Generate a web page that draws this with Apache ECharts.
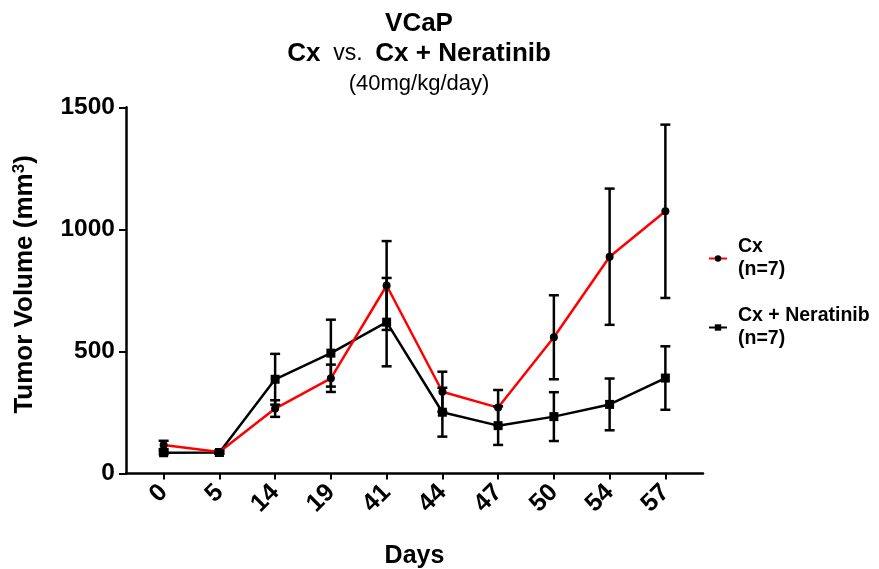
<!DOCTYPE html>
<html>
<head>
<meta charset="utf-8">
<script src="https://cdn.jsdelivr.net/npm/echarts@6/dist/echarts.min.js"></script>
<style>
html,body{margin:0;padding:0;background:#fff;}
#chart{width:879px;height:569px;}
</style>
</head>
<body>
<div id="chart"></div>
<script>
var days = ['0', '5', '14', '19', '41', '44', '47', '50', '54', '57'];
var cxMean = [117, 88, 266, 390, 770, 335, 270, 558, 888, 1074];
var cxErr = [17, 6, 34, 56, 182, 82, 72, 172, 279, 355];
var neraMean = [85, 86, 386, 493, 620, 251, 196, 233, 283, 391];
var neraErr = [6, 5, 104, 137, 181, 100, 79, 100, 106, 130];
var yTicks = [0, 500, 1000, 1500];

var FONT = '"Liberation Sans", Arial, Helvetica, sans-serif';
var idx = days.map(function (d, i) { return i; });

function pts(mean) { return mean.map(function (v, i) { return [i, v]; }); }
function errData(mean, err) { return mean.map(function (v, i) { return [i, v, err[i]]; }); }

function errRender(params, api) {
  var i = api.value(0), m = api.value(1), e = api.value(2);
  var top = api.coord([i, m + e]);
  var bot = api.coord([i, m - e]);
  var hw = 5;
  var st = { stroke: '#000', lineWidth: 2.5 };
  return {
    type: 'group',
    children: [
      { type: 'line', shape: { x1: top[0], y1: top[1], x2: bot[0], y2: bot[1] }, style: st },
      { type: 'line', shape: { x1: top[0] - hw, y1: top[1], x2: top[0] + hw, y2: top[1] }, style: st },
      { type: 'line', shape: { x1: bot[0] - hw, y1: bot[1], x2: bot[0] + hw, y2: bot[1] }, style: st }
    ]
  };
}

var chart = echarts.init(document.getElementById('chart'), null, { renderer: 'canvas' });
chart.setOption({
  animation: false,
  backgroundColor: '#fff',
  textStyle: { fontFamily: FONT },
  title: {
    left: 414,
    top: 4,
    textAlign: 'center',
    text: '{b|VCaP}\n{b|Cx}{n|  vs.  }{b|Cx + Neratinib}\n{s|(40mg/kg/day)}',
    textStyle: {
      fontFamily: FONT,
      lineHeight: 30,
      rich: {
        b: { fontFamily: FONT, fontSize: 26, fontWeight: 'bold', color: '#000', lineHeight: 30 },
        n: { fontFamily: FONT, fontSize: 23, fontWeight: 'normal', color: '#000', lineHeight: 30 },
        s: { fontFamily: FONT, fontSize: 22, fontWeight: 'normal', color: '#000', lineHeight: 30 }
      }
    }
  },
  legend: {
    orient: 'vertical',
    left: 703,
    top: 219,
    itemWidth: 18,
    itemHeight: 8,
    itemGap: 0,
    data: ['Cx', 'Cx + Neratinib'],
    formatter: function (name) { return name + '\n(n=7)'; },
    textStyle: {
      fontFamily: FONT, fontSize: 19.5, fontWeight: 'bold', color: '#000',
      lineHeight: 23, padding: [23, 0, 0, 6]
    }
  },
  grid: { left: 126, right: 176, top: 107.3, bottom: 95.5, containLabel: false, outerBoundsMode: 'none' },
  xAxis: {
    type: 'value',
    min: -0.675,
    max: 9.675,
    name: 'Days',
    nameLocation: 'middle',
    nameGap: 70,
    nameTextStyle: { fontFamily: FONT, fontSize: 25, fontWeight: 'bold', color: '#000' },
    splitLine: { show: false },
    axisLine: { show: true, onZero: false, lineStyle: { color: '#000', width: 2.5 } },
    axisTick: { show: true, customValues: idx, length: 6, lineStyle: { color: '#000', width: 2 } },
    axisLabel: {
      customValues: idx,
      rotate: 45,
      margin: 15,
      formatter: function (v) { return days[Math.round(v)]; },
      fontFamily: FONT, fontSize: 25, fontWeight: 'bold', color: '#000'
    }
  },
  yAxis: {
    type: 'value',
    min: 0,
    max: 1500,
    interval: 500,
    name: 'Tumor Volume (mm{sup|3})',
    nameLocation: 'middle',
    nameGap: 88,
    nameTextStyle: {
      fontFamily: FONT, fontSize: 26, fontWeight: 'bold', color: '#000',
      padding: [0, 0, 0, 12],
      rich: { sup: { fontFamily: FONT, fontSize: 17, fontWeight: 'bold', color: '#000', verticalAlign: 'top', padding: [0, 0, 10, 0] } }
    },
    splitLine: { show: false },
    axisLine: { show: true, onZero: false, lineStyle: { color: '#000', width: 2.5 } },
    axisTick: { show: true, length: 7, lineStyle: { color: '#000', width: 2 } },
    axisLabel: {
      margin: 11,
      customValues: yTicks,
      formatter: function (v) { return String(v); },
      fontFamily: FONT, fontSize: 24.5, fontWeight: 'bold', color: '#000'
    }
  },
  series: [
    {
      name: 'Cx',
      type: 'line',
      data: pts(cxMean),
      symbol: 'circle',
      symbolSize: 8,
      itemStyle: { color: '#000' },
      lineStyle: { color: '#ff0000', width: 2.5 },
      z: 3
    },
    {
      name: 'Cx + Neratinib',
      type: 'line',
      data: pts(neraMean),
      symbol: 'rect',
      symbolSize: 9,
      itemStyle: { color: '#000' },
      lineStyle: { color: '#000', width: 2.5 },
      z: 2
    },
    {
      name: 'cxErr',
      type: 'custom',
      renderItem: errRender,
      encode: { x: 0, y: 1 },
      data: errData(cxMean, cxErr),
      z: 4
    },
    {
      name: 'neraErr',
      type: 'custom',
      renderItem: errRender,
      encode: { x: 0, y: 1 },
      data: errData(neraMean, neraErr),
      z: 4
    }
  ]
});
</script>
</body>
</html>
